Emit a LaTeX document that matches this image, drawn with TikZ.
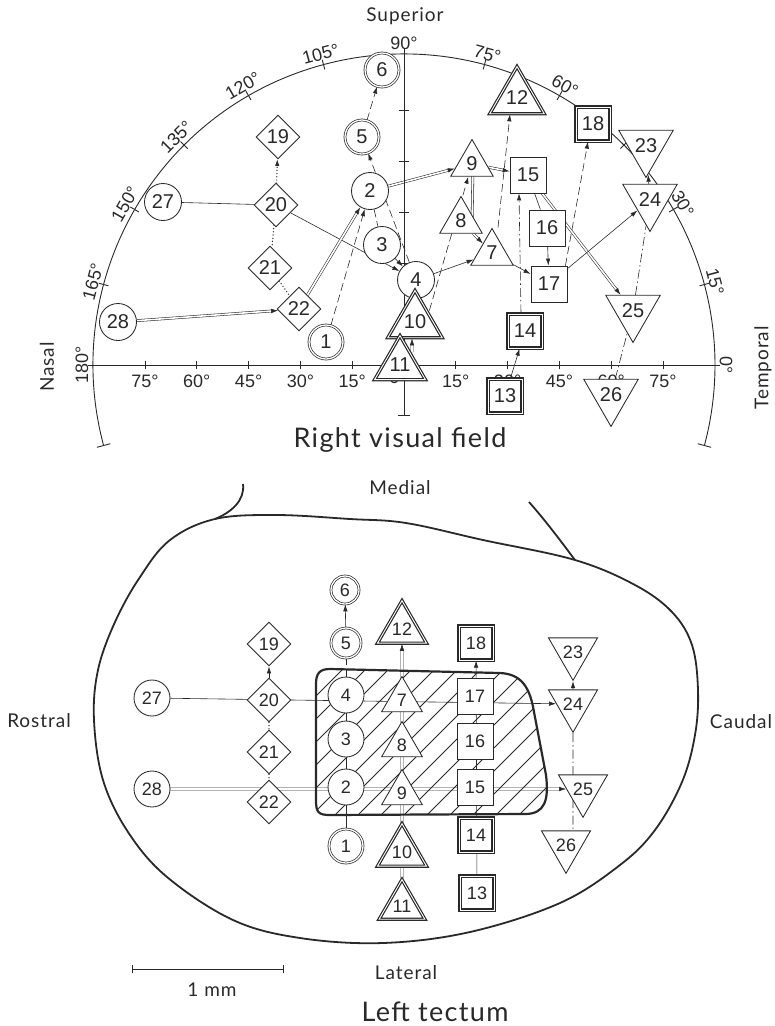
\documentclass[tikz,border=0pt]{standalone}
\usepackage{fontspec}
\setmainfont{Liberation Sans}
\newfontfamily\lblfont{Lato}[LetterSpace=5.0]
\usetikzlibrary{shapes.geometric,arrows.meta,calc}
\pgfdeclarelayer{bg}
\pgfsetlayers{bg,main}
\definecolor{ink}{gray}{0.16}
\begin{document}
\begin{tikzpicture}[x=1pt,y=1pt,
  nd/.style={draw=ink, fill=white, text=ink, inner sep=0pt, line width=0.85pt, font=\fontsize{20}{20}\selectfont},
  circ/.style={nd, circle, minimum size=37pt},
  dcirc/.style={nd, circle, double=white, double distance=1.3pt, line width=0.7pt, minimum size=34pt},
  tri/.style={nd, regular polygon, regular polygon sides=3, minimum size=49pt},
  ttri/.style={tri, double=white, double distance=0.9pt, line width=1.2pt, minimum size=53pt},
  itri/.style={tri, regular polygon rotate=180, minimum size=50pt},
  sq/.style={nd, rectangle, minimum size=36pt},
  tsq/.style={sq, double=white, double distance=0.9pt, line width=1.3pt, minimum size=34pt},
  dia/.style={nd, diamond, minimum width=44pt, minimum height=44pt},
  tect/.style={font=\fontsize{18}{18}\selectfont},
  ln/.style={draw=ink, line width=0.6pt},
  arr/.style={-{Latex[length=7pt,width=4.5pt]}},
  dsh/.style={ln, dash pattern=on 8pt off 4pt},
  dots/.style={draw=ink, line width=1.4pt, line cap=round, dash pattern=on 0pt off 3.2pt},
  dashdot/.style={ln, dash pattern=on 9pt off 3pt on 1.5pt off 3pt},
  dbl/.style={draw=ink, line width=0.55pt, double=white, double distance=1.6pt},
  axln/.style={draw=ink, line width=0.9pt},
  deg/.style={text=ink, font=\fontsize{18}{18}\selectfont, inner sep=0pt},
  lbl/.style={text=ink, font=\lblfont\fontsize{19}{19}\selectfont, inner sep=0pt},
  big/.style={text=ink, font=\lblfont\fontsize{27}{27}\selectfont, inner sep=0pt},
]
\useasboundingbox (0,0) rectangle (775,-1026);
\coordinate (O) at (404,-365);
% ---------- visual field frame ----------
\draw[axln] (O) ++(195:311) arc[start angle=195, end angle=-15, radius=311];
\foreach \a in {195,-15} \draw[axln] ($(O)+(\a:304)$) -- ($(O)+(\a:318)$);
\foreach \a in {0,15,...,180} \draw[axln] ($(O)+(\a:306)$) -- ($(O)+(\a:316)$);
\foreach \a in {0,15,30,60,75,90,105,120,135,150,165,180}
  \node[deg, rotate={\a-90}] (arclab\a) at ($(O)+(\a:322)$) {\a°};
\draw[axln] ($(O)+(-311,0)$) -- ($(O)+(311,0)$);
\foreach \k in {1,...,5} {
  \draw[axln] ($(O)+(\k*51.8,-4)$) -- ($(O)+(\k*51.8,4)$);
  \draw[axln] ($(O)+(-\k*51.8,-4)$) -- ($(O)+(-\k*51.8,4)$);
  \pgfmathtruncatemacro\dg{15*\k}
  \node[deg] (hr\k) at ($(O)+(\k*51.8,-16)$) {\dg°};
  \node[deg] (hl\k) at ($(O)+(-\k*51.8,-16)$) {\dg°};
}
\node[deg] (h0) at (398,-377) {0°};
\draw[axln] (404,-54) -- (404,-415);
\draw[axln] (398,-415) -- (410,-415);
\foreach \k in {1,...,5} \draw[axln] (399,{-365+51*\k}) -- (409,{-365+51*\k});

% ---------- tectum outline ----------
\draw[draw=ink, line width=1.8pt] plot[smooth cycle, tension=0.6] coordinates {
 (215,-519) (276,-515) (350,-519) (406,-523) (483,-540) (575,-560) (635,-585)
 (672,-612) (692,-645) (698,-690) (695,-735) (682,-782) (655,-830) (620,-865)
 (560,-903) (470,-932) (383,-943) (300,-938) (233,-920) (167,-877) (128,-832)
 (103,-780) (94,-720) (98,-670) (115,-622) (140,-577) (170,-540)};
\draw[draw=ink, line width=1.8pt] (215,-519) .. controls (232,-512) and (245,-500) .. (243,-484);
\draw[draw=ink, line width=1.8pt] (575,-560) .. controls (560,-540) and (545,-520) .. (529,-502);
% hatched zone
\def\blob{(330,-669) -- (500,-673) .. controls (522,-674) and (530,-688) .. (534,-712) -- (546,-775) .. controls (549,-800) and (545,-814) .. (525,-814) -- (330,-815) .. controls (318,-815) and (316,-812) .. (316,-800) -- (316,-684) .. controls (316,-673) and (320,-669) .. (330,-669) -- cycle}
\begin{scope}
\clip \blob;
\foreach \c in {-1380,-1357,...,-960} \draw[draw=ink, line width=0.8pt] (300,300+\c) -- (570,570+\c);
\end{scope}
\draw[draw=ink, line width=2.2pt] \blob;

% ---------- field nodes ----------
\node[dcirc] (f1) at (326,-342) {1};
\node[circ] (f2) at (370,-191) {2};
\node[circ] (f3) at (382,-245) {3};
\node[circ] (f4) at (416,-280) {4};
\node[dcirc] (f5) at (362,-137) {5};
\node[dcirc] (f6) at (382,-70) {6};
\node[tri] (f7) at (492,-253) {7};
\node[tri] (f8) at (461,-221) {8};
\node[tri] (f9) at (472,-164) {9};
\node[ttri] (f10) at (415,-322) {10};
\node[ttri] (f11) at (400,-365) {11};
\node[ttri] (f12) at (517,-98) {12};
\node[tsq] (f13) at (505,-396) {13};
\node[tsq] (f14) at (525,-331) {14};
\node[sq] (f15) at (528,-175) {15};
\node[sq] (f16) at (547,-228) {16};
\node[sq] (f17) at (549,-284) {17};
\node[tsq] (f18) at (593,-124) {18};
\node[dia] (f19) at (278,-137) {19};
\node[dia] (f20) at (276,-205) {20};
\node[dia] (f21) at (270,-268) {21};
\node[dia] (f22) at (299,-309) {22};
\node[itri] (f23) at (646,-146) {23};
\node[itri] (f24) at (650,-200) {24};
\node[itri] (f25) at (633,-311) {25};
\node[itri] (f26) at (611,-395) {26};
\node[circ] (f27) at (163,-202) {27};
\node[circ] (f28) at (118,-322) {28};

% ---------- tectum nodes ----------
\node[dcirc,tect,minimum size=34pt] (t1) at (346,-846) {1};
\node[circ,tect,minimum size=36pt] (t2) at (346,-787) {2};
\node[circ,tect,minimum size=36pt] (t3) at (346,-739) {3};
\node[circ,tect,minimum size=36pt] (t4) at (346,-695) {4};
\node[dcirc,tect,minimum size=30pt] (t5) at (346,-643) {5};
\node[dcirc,tect,minimum size=28pt] (t6) at (345,-590) {6};
\node[tri,tect,minimum size=47pt] (t7) at (402,-700) {7};
\node[tri,tect,minimum size=47pt] (t8) at (402,-745) {8};
\node[tri,tect,minimum size=47pt] (t9) at (402,-793) {9};
\node[ttri,tect,minimum size=52pt] (t10) at (402,-852) {10};
\node[ttri,tect,minimum size=52pt] (t11) at (402,-906) {11};
\node[ttri,tect,minimum size=52pt] (t12) at (402,-629) {12};
\node[tsq,tect] (t13) at (477,-893) {13};
\node[tsq,tect] (t14) at (476,-835) {14};
\node[sq,tect] (t15) at (475,-787) {15};
\node[sq,tect] (t16) at (475,-741) {16};
\node[sq,tect] (t17) at (475,-696) {17};
\node[tsq,tect] (t18) at (476,-643) {18};
\node[dia,tect] (t19) at (269,-644) {19};
\node[dia,tect] (t20) at (269,-700) {20};
\node[dia,tect] (t21) at (269,-752) {21};
\node[dia,tect] (t22) at (269,-802) {22};
\node[itri,tect,minimum size=48pt] (t23) at (573,-652) {23};
\node[itri,tect,minimum size=48pt] (t24) at (573,-704) {24};
\node[itri,tect,minimum size=48pt] (t25) at (583,-789) {25};
\node[itri,tect,minimum size=48pt] (t26) at (566,-845) {26};
\node[circ,tect,minimum size=36pt] (t27) at (152,-698) {27};
\node[circ,tect,minimum size=36pt] (t28) at (152,-789) {28};

% ---------- connectors ----------
\begin{pgfonlayer}{bg}
\draw[ln] (f27) -- (f20);
\draw[dots,arr] (f20) -- (f19);
\draw[ln,arr] (f20) -- (f4);
\draw[dots] (f20) -- (f21);
\draw[dots] (f21) -- (f22);
\draw[dbl,arr] (f28) -- (f22);
\draw[dbl,arr] (f22) -- (f2);
\draw[dsh,arr] (f1) -- (f2);
\draw[dsh] (f2) -- (f3);
\draw[ln,arr] (f3) -- (f4);
\draw[dsh,arr] (f4) -- (f5);
\draw[dsh,arr] (f5) -- (f6);
\draw[dbl,arr] (f2) -- (f9);
\draw[ln,arr] (f4) -- (f7);
\draw[dsh,arr] ([xshift=11pt]f10.center) -- (f9);
\draw[dbl] ([xshift=11pt,yshift=-8pt]f8.center) -- ([xshift=1pt]f9.center);
\draw[dbl,arr] (f8) -- (f7);
\draw[dbl,arr] (f9) -- (f15);
\draw[dbl,arr] (f15) -- (f25);
\draw[ln] (f15) -- (f16);
\draw[ln,arr] (f16) -- (f17);
\draw[ln,arr] (f7) -- (f17);
\draw[ln,arr] (f17) -- (f24);
\draw[dashdot,arr] ([xshift=-4pt]f14.north) -- ([xshift=-9pt]f15.south);
\draw[ln,arr] (f13) -- (f14);
\draw[dsh,arr] ([xshift=6pt]f7.north) -- ([xshift=-7pt]f12.south);
\draw[dsh,arr] ([xshift=-2pt]f17.north east) -- ([xshift=-5pt]f18.south);
\draw[ln,arr] (f24) -- (f23);
\draw[dashdot] (f25) -- (f24);
\draw[dashdot] (f26) -- (f25);
\draw[dbl,arr] ([xshift=12pt,yshift=13pt]f11.center) -- ([xshift=-3pt]f10.south);
% tectum
\draw[ln,arr] (t27) -- (t24);
\draw[dbl,arr] (t28) -- (t25);
\draw[ln,arr] (t20) -- (t19);
\draw[dots] (t20) -- (t21);
\draw[dots] (t21) -- (t22);
\draw[ln,arr] (t5) -- (t6);
\draw[dsh] (t4) -- (t5);
\draw[ln] (t1) -- (t4);
\draw[dbl,arr] (t11) -- (t12);
\draw[ln,arr] (t13) -- (t18);
\draw[ln,arr] (t24) -- (t23);
\draw[dashdot] (t24) -- (t24 |- t26.center);
\end{pgfonlayer}

% ---------- labels ----------
\node[lbl] (sup) at (405,-16) {Superior};
\node[lbl, rotate=90] (nas) at (47,-367) {Nasal};
\node[lbl, rotate=90] (tem) at (763,-368) {Temporal};
\node[big] (rvf) at (400,-440) {Right visual field};
\node[lbl] (med) at (400,-488) {Medial};
\node[lbl] (ros) at (39,-721) {Rostral};
\node[lbl] (cau) at (741,-722) {Caudal};
\node[lbl] (lat) at (406,-973) {Lateral};
\node[big] (lt) at (435,-1012) {Left tectum};
\coordinate (sb1) at (132,-969);
\coordinate (sb2) at (284,-969);
\draw[draw=ink, line width=0.9pt, {Bar[width=8pt]}-{Bar[width=8pt]}] (sb1) -- (sb2);
\node[lbl] (mm) at (212,-990) {1 mm};
\end{tikzpicture}
\end{document}
